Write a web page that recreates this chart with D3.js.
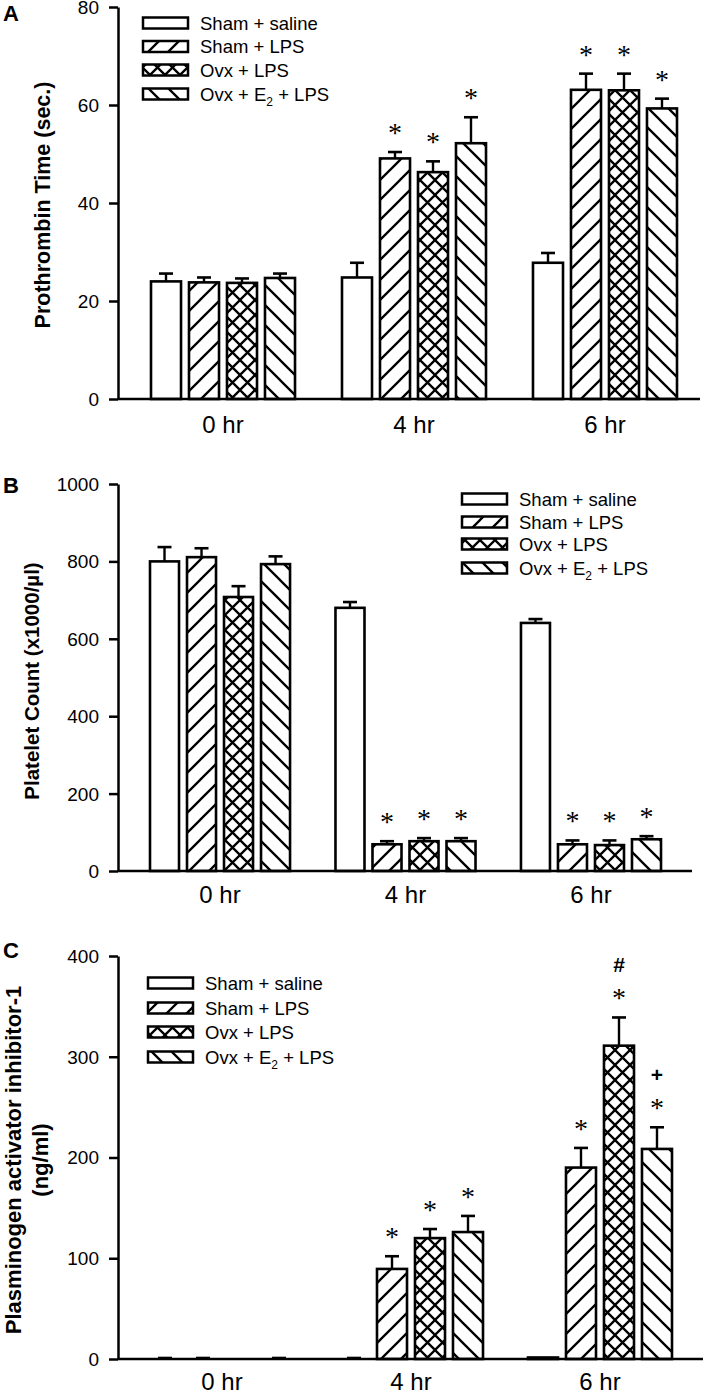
<!DOCTYPE html>
<html><head><meta charset="utf-8">
<script src="https://cdn.jsdelivr.net/npm/d3@7"></script>
<style>body{margin:0;background:#fff} svg{display:block}</style>
</head><body><svg id="c" width="709" height="1395"></svg>
<script>
// ---------- data ----------
const timePoints = ["0 hr", "4 hr", "6 hr"];
const groupNames = ["Sham + saline", "Sham + LPS", "Ovx + LPS", "Ovx + E2 + LPS"];
const groupFills = ["white", "url(#hFwd)", "url(#hCross)", "url(#hBack)"];

// Panel A: Prothrombin time (sec.) [time][group]
const ptTicks = [0, 20, 40, 60, 80];
const ptMean = [[24.0, 23.8, 23.7, 24.7], [24.8, 49.1, 46.3, 52.2], [27.8, 63.1, 63.0, 59.3]];
const ptErr  = [[1.6, 1.0, 0.9, 0.9], [3.0, 1.3, 2.2, 5.3], [2.0, 3.3, 3.4, 2.0]];
const ptMarks = [[[], [], [], []], [[], ["*"], ["*"], ["*"]], [[], ["*"], ["*"], ["*"]]];

// Panel B: Platelet count (x1000/µl)
const plTicks = [0, 200, 400, 600, 800, 1000];
const plMean = [[800, 811, 708, 793], [680, 69, 77, 77], [641, 69, 67, 82]];
const plErr  = [[37, 23, 28, 20], [15, 8, 8, 8], [10, 10, 12, 8]];
const plMarks = [[[], [], [], []], [[], ["*"], ["*"], ["*"]], [[], ["*"], ["*"], ["*"]]];

// Panel C: PAI-1 (ng/ml)
const paiTicks = [0, 100, 200, 300, 400];
const paiMean = [[0, 0, 0, 0], [0, 89.4, 120, 126], [1.5, 190, 311, 208.5]];
const paiErr  = [[1, 1, 0, 1], [1, 12.6, 9, 16], [0, 19.5, 28, 21.5]];
const paiMarks = [[[], [], [], []], [[], ["*"], ["*"], ["*"]], [[], ["*"], ["#", "*"], ["+", "*"]]];

// ---------- layout ----------
const panels = [
  {mean: ptMean, err: ptErr, marks: ptMarks, ticks: ptTicks, max: 80,
   yTop: 7, yBot: 399, xAxis: 118, xEnd: 700, bStart: 151, bEnd: 677, pad: 0.246, barPad: 0.21,
   letter: "A", letterY: 21, title: ["Prothrombin Time (sec.)"], titleX: [43], titleY: 205, titleSize: 21.5,
   legX: 143, legRows: [23, 46.5, 70, 94], labelY: 433},
  {mean: plMean, err: plErr, marks: plMarks, ticks: plTicks, max: 1000,
   yTop: 484, yBot: 871, xAxis: 118, xEnd: 692, bStart: 150, bEnd: 661, pad: 0.245, barPad: 0.216,
   letter: "B", letterY: 493, title: ["Platelet Count (x1000/\u00b5l)"], titleX: [31], titleY: 681, titleSize: 20.5,
   legX: 462, legRows: [499, 522, 544, 568], labelY: 903},
  {mean: paiMean, err: paiErr, marks: paiMarks, ticks: paiTicks, max: 400,
   yTop: 956, yBot: 1359, xAxis: 118, xEnd: 703, bStart: 150, bEnd: 672, pad: 0.238, barPad: 0.21,
   letter: "C", letterY: 958, title: ["Plasminogen activator inhibitor-1", "(ng/ml)"], titleX: [13, 40], titleY: 1160, titleSize: 22,
   legX: 148, legRows: [983, 1008, 1032, 1057], labelY: 1390}
];

const FONT = "'Liberation Sans', Arial, Helvetica, sans-serif";
const svg = d3.select("#c");
svg.append("rect").attr("width", 709).attr("height", 1395).attr("fill", "#fff");

// ---------- patterns ----------
const defs = svg.append("defs");
function hatch(id, s, dirs) {
  const p = defs.append("pattern").attr("id", id).attr("patternUnits", "userSpaceOnUse")
    .attr("width", s).attr("height", s);
  p.append("rect").attr("width", s).attr("height", s).attr("fill", "#fff");
  let d = "";
  if (dirs.includes("f")) d += `M${-s/2},${s/2}L${s/2},${-s/2}M0,${s}L${s},0M${s/2},${1.5*s}L${1.5*s},${s/2}`;
  if (dirs.includes("b")) d += `M${-s/2},${s/2}L${s/2},${1.5*s}M0,0L${s},${s}M${s/2},${-s/2}L${1.5*s},${s/2}`;
  p.append("path").attr("d", d).attr("stroke", "#000").attr("stroke-width", 2.3).attr("fill", "none");
}
hatch("hFwd", 20, "f");
hatch("hBack", 20, "b");
hatch("hCross", 15, "fb");

function groupLabel(sel, name) {
  const parts = name.split("E2");
  sel.append("tspan").text(parts[0]);
  if (parts.length > 1) {
    sel.append("tspan").text("E");
    sel.append("tspan").text("2").attr("font-size", 12).attr("dy", 5);
    sel.append("tspan").text(parts[1]).attr("dy", -5);
  }
}

panels.forEach(P => {
  const g = svg.append("g");
  const y = d3.scaleLinear().domain([0, P.max]).range([P.yBot, P.yTop]);
  const x0 = d3.scaleBand().domain(timePoints).range([P.bStart, P.bEnd]).paddingInner(P.pad).paddingOuter(0);
  const x1 = d3.scaleBand().domain(groupNames).range([0, x0.bandwidth()]).paddingInner(P.barPad).paddingOuter(0);

  // bars
  timePoints.forEach((t, ti) => {
    groupNames.forEach((gn, gi) => {
      const v = P.mean[ti][gi], e = P.err[ti][gi];
      const bx = x0(t) + x1(gn), bw = x1.bandwidth(), cx = bx + bw / 2;
      if (y(0) - y(v) > 0) {
        g.append("rect").attr("x", bx).attr("y", y(v)).attr("width", bw).attr("height", y(0) - y(v))
          .attr("fill", groupFills[gi]).attr("stroke", "#000").attr("stroke-width", 2.6);
      }
      if (e > 0) {
        g.append("line").attr("x1", cx).attr("x2", cx).attr("y1", y(v)).attr("y2", y(v + e))
          .attr("stroke", "#000").attr("stroke-width", 2.4);
        g.append("line").attr("x1", cx - 7).attr("x2", cx + 7).attr("y1", y(v + e)).attr("y2", y(v + e))
          .attr("stroke", "#000").attr("stroke-width", 2.6);
      }
      const marks = P.marks[ti][gi].slice().reverse();
      marks.forEach((m, mi) => {
        const cy = y(v + e) - 24 - mi * 28;
        if (m === "*") {
          g.append("text").attr("x", cx).attr("y", cy + 14).attr("text-anchor", "middle")
            .attr("font-family", "'Liberation Serif', 'Times New Roman', serif").attr("font-size", 28).text(m);
        } else {
          g.append("text").attr("x", cx).attr("y", cy + 7).attr("text-anchor", "middle")
            .attr("font-family", FONT).attr("font-weight", "bold").attr("font-size", 21).text(m);
        }
      });
    });
  });

  // y axis
  const ya = g.append("g").attr("transform", `translate(${P.xAxis},0)`)
    .call(d3.axisLeft(y).tickValues(P.ticks).tickSize(9).tickSizeOuter(0).tickPadding(10).tickFormat(d3.format("d")));
  ya.selectAll("path,line").attr("stroke", "#000").attr("stroke-width", 2.5);
  ya.selectAll("text").attr("font-family", FONT).attr("font-size", 19).attr("fill", "#000").attr("dy", "0.34em");

  // x axis line
  g.append("line").attr("x1", P.xAxis).attr("x2", P.xEnd).attr("y1", y(0)).attr("y2", y(0))
    .attr("stroke", "#000").attr("stroke-width", 2.5);

  // x labels
  const xa = g.append("g").attr("transform", `translate(0,${P.labelY})`)
    .call(d3.axisBottom(x0).tickSize(0).tickPadding(0));
  xa.select(".domain").remove();
  xa.selectAll("text").attr("font-family", FONT).attr("font-size", 24).attr("fill", "#000").attr("dy", 0).attr("y", 0);

  // y title
  P.title.forEach((tt, i) => {
    g.append("text").attr("transform", `translate(${P.titleX[i]},${P.titleY}) rotate(-90)`)
      .attr("text-anchor", "middle").attr("dominant-baseline", "central")
      .attr("font-family", FONT).attr("font-weight", "bold").attr("font-size", P.titleSize).text(tt);
  });

  // panel letter
  g.append("text").attr("x", 3).attr("y", P.letterY).attr("font-family", FONT)
    .attr("font-weight", "bold").attr("font-size", 22).text(P.letter);

  // legend
  groupNames.forEach((gn, gi) => {
    const ry = P.legRows[gi];
    g.append("rect").attr("x", P.legX).attr("y", ry - 5.5).attr("width", 45).attr("height", 11)
      .attr("fill", groupFills[gi]).attr("stroke", "#000").attr("stroke-width", 2.5);
    const tx = g.append("text").attr("x", P.legX + 57).attr("y", ry + 6.5)
      .attr("font-family", FONT).attr("font-size", 18.5);
    groupLabel(tx, gn);
  });
});
</script>
</body></html>
